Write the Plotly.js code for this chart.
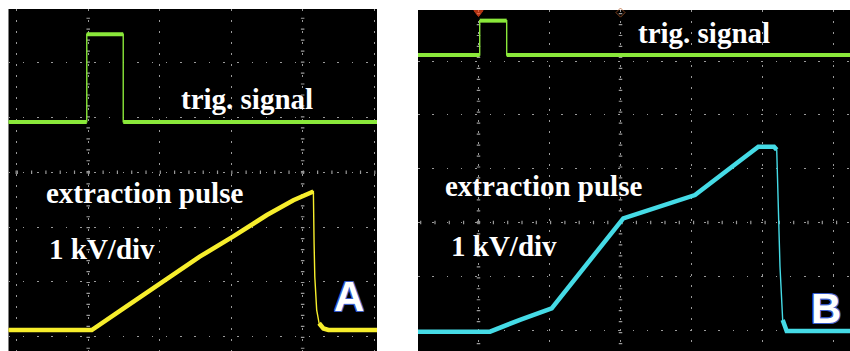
<!DOCTYPE html>
<html>
<head>
<meta charset="utf-8">
<script src="https://cdn.plot.ly/plotly-3.0.1.min.js"></script>
<style>
  html, body { margin: 0; padding: 0; background: #ffffff; }
  #chart { width: 850px; height: 351px; }
</style>
</head>
<body>
<div id="chart"></div>
<script>
// Panel A (time / voltage in scope divisions)
const trigA_x = [-0.12, 0.98, 0.98, 1.49, 1.49, 5.06];
const trigA_y = [3.92, 3.92, 5.52, 5.52, 3.92, 3.92];

const pulseA_x = [-0.12, 1.05, 1.5, 2.0, 2.56, 3.03, 3.5, 3.87, 4.05, 4.14, 4.15, 4.16, 4.17, 4.196, 4.23, 4.29, 4.36, 5.06];
const pulseA_y = [0.122, 0.122, 0.52, 0.96, 1.46, 1.83, 2.22, 2.49, 2.60, 2.65, 2.65, 1.70, 1.09, 0.49, 0.245, 0.15, 0.122, 0.122];

// Panel B
const trigB_x = [-0.86, 0.017, 0.017, 0.397, 0.397, 5.24];
const trigB_y = [5.11, 5.11, 5.75, 5.75, 5.11, 5.11];

const pulseB_x = [-0.86, 0.162, 0.584, 1.031, 2.039, 3.049, 3.496, 3.941, 4.162, 4.2, 4.246, 4.284, 4.34, 5.24];
const pulseB_y = [-0.03, -0.03, 0.19, 0.403, 2.076, 2.509, 2.96, 3.407, 3.407, 3.35, 1.18, 0.186, -0.02, -0.02];

const markerB_x = [0, 2];
const markerB_y = [5.9, 5.9];

const labelTrig = "trig. signal";
const labelPulse = "extraction pulse";
const labelScale = "1 kV/div";
const panelLabels = ["A", "B"];

const GREEN = "#8ae83a";
const YELLOW = "#f7ee2c";
const CYAN = "#45dbe6";

// Scope traces: fast (steep) edges are drawn thin, slow parts thick
function scopeTraces(xs, ys, color, thickW, xa, ya) {
  const tx = [], ty = [];
  for (let i = 0; i < xs.length; i++) {
    if (i > 0) {
      const dx = xs[i] - xs[i - 1], dy = ys[i] - ys[i - 1];
      if (dx === 0 || Math.abs(dy / dx) > 5) { tx.push(null); ty.push(null); }
    }
    tx.push(xs[i]); ty.push(ys[i]);
  }
  return [
    {x: xs, y: ys, xaxis: xa, yaxis: ya, mode: "lines", line: {color: color, width: 1.4}, hoverinfo: "skip"},
    {x: tx, y: ty, xaxis: xa, yaxis: ya, mode: "lines", line: {color: color, width: thickW}, hoverinfo: "skip", connectgaps: false}
  ];
}

const traces = [].concat(
  scopeTraces(trigA_x, trigA_y, GREEN, 4, "x", "y"),
  scopeTraces(pulseA_x, pulseA_y, YELLOW, 4.5, "x", "y"),
  scopeTraces(trigB_x, trigB_y, GREEN, 4, "x2", "y2"),
  scopeTraces(pulseB_x, pulseB_y, CYAN, 4.5, "x2", "y2"),
  [{x: markerB_x, y: markerB_y, xaxis: "x2", yaxis: "y2", mode: "markers",
    cliponaxis: false,
    marker: {symbol: ["triangle-down", "diamond-open"], size: [8, 7],
             color: ["#ff4a1c", "#b8602c"], line: {width: 1, color: ["#ff4a1c", "#b8602c"]}},
    hoverinfo: "skip"}]
);

const GRID = "#9a9a9a";
const gridX = {showgrid: true, gridcolor: GRID, gridwidth: 1, griddash: "1.5px,9.5px",
  dtick: 1, tick0: 0, showticklabels: false, ticks: "", zeroline: false, showline: false, fixedrange: true};
const gridY = {showgrid: true, gridcolor: GRID, gridwidth: 1, griddash: "1.5px,12.8px",
  dtick: 1, tick0: 0, showticklabels: false, ticks: "", zeroline: false, showline: false, fixedrange: true};

// graticule centre lines with small perpendicular ticks
function tickLineH(xr, yr, y, x0, x1) {
  return {type: "line", xref: xr, yref: yr, x0: x0, x1: x1, y0: y, y1: y, layer: "below",
          line: {color: GRID, width: 3.5, dash: "1.2px,13.1px"}};
}
function tickLineV(xr, yr, x, y0, y1) {
  return {type: "line", xref: xr, yref: yr, x0: x, x1: x, y0: y0, y1: y1, layer: "below",
          line: {color: GRID, width: 3.5, dash: "1.2px,9.76px"}};
}

const serif = {family: "Liberation Serif, Times New Roman, serif", size: 29, color: "#ffffff", weight: "bold"};
const oc = "#3a5cc8";
const outline = ["-1px -1px", "1px -1px", "-1px 1px", "1px 1px", "0 1px", "0 -1px", "1px 0", "-1px 0"]
  .map(o => o + " 0 " + oc).join(", ");
const sans = {family: "Liberation Sans, Arial, sans-serif", size: 42, color: "#ffffff", weight: "bold", shadow: outline};

function txt(t, xr, yr, x, y) {
  return {text: "<b>" + t + "</b>", xref: xr, yref: yr, x: x, y: y, xanchor: "left", yanchor: "middle",
          showarrow: false, font: serif, borderpad: 0};
}

const layout = {
  width: 850, height: 351,
  margin: {l: 0, r: 0, t: 0, b: 0, pad: 0},
  paper_bgcolor: "#ffffff",
  plot_bgcolor: "#000000",
  showlegend: false,
  xaxis: Object.assign({}, gridX, {domain: [8.5/850, 377/850], range: [-0.115, 5.04], anchor: "y"}),
  yaxis: Object.assign({}, gridY, {domain: [0, 342/351], range: [-0.261, 5.98], anchor: "x"}),
  xaxis2: Object.assign({}, gridX, {domain: [418/850, 1], range: [-0.852, 5.232], anchor: "y2"}),
  yaxis2: Object.assign({}, gridY, {domain: [0, 341/351], range: [-0.390, 5.948], anchor: "x2"}),
  shapes: [
    tickLineH("x", "y", 3, 0, -0.2), tickLineH("x", "y", 3, 0, 5.1),
    tickLineV("x", "y", 4, 3, 6.1), tickLineV("x", "y", 4, 3, -0.3),
    tickLineV("x", "y", 1, 3, 6.1), tickLineV("x", "y", 1, 3, -0.3),
    tickLineH("x2", "y2", 2, 0, -0.9), tickLineH("x2", "y2", 2, 0, 5.3),
    tickLineV("x2", "y2", 2, 2, 6.0), tickLineV("x2", "y2", 2, 2, -0.4),
    tickLineV("x2", "y2", 0, 2, 6.0), tickLineV("x2", "y2", 0, 2, -0.4)
  ],
  annotations: [
    txt(labelTrig, "x", "y", 2.29, 4.33),
    txt(labelPulse, "x", "y", 0.40, 2.63),
    txt(labelScale, "x", "y", 0.44, 1.595),
    {text: "<b>" + panelLabels[0] + "</b>", xref: "x", yref: "y", x: 4.654, y: 0.73,
     xanchor: "center", yanchor: "middle", showarrow: false, font: sans},
    txt(labelTrig, "x2", "y2", 2.23, 5.526),
    txt(labelPulse, "x2", "y2", -0.49, 2.677),
    txt(labelScale, "x2", "y2", -0.40, 1.561),
    {text: "<b>" + panelLabels[1] + "</b>", xref: "x2", yref: "y2", x: 4.894, y: 0.409,
     xanchor: "center", yanchor: "middle", showarrow: false, font: sans}
  ]
};

Plotly.newPlot("chart", traces, layout, {displayModeBar: false, staticPlot: true});
</script>
</body>
</html>
